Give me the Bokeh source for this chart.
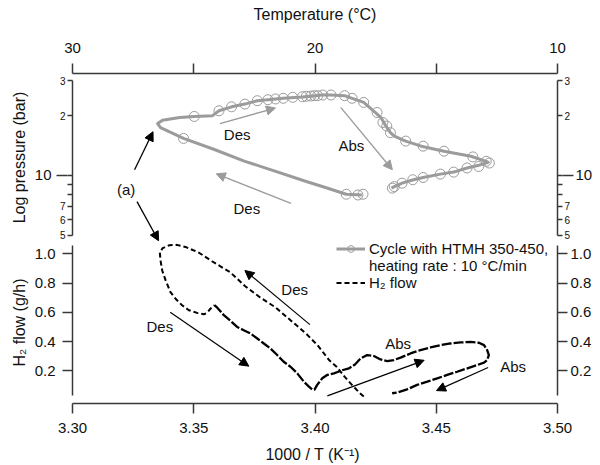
from bokeh.plotting import figure
from bokeh.models import (Range1d, LinearAxis, LogAxis, FixedTicker, Arrow, NormalHead,
                          Label, Legend, LegendItem, ColumnDataSource, PrintfTickFormatter)
from bokeh.layouts import column
from bokeh.embed import file_html
from bokeh.resources import INLINE

# ---------------- data ----------------
# top panel: pressure cycle (line path)
pres_invT = [3.4193, 3.4129, 3.4043, 3.3964, 3.3838, 3.3711, 3.3585, 3.3458, 3.3363, 3.3351,
             3.3371, 3.3442, 3.3502, 3.3576, 3.3604, 3.3656, 3.3711, 3.3762, 3.3806, 3.3869,
             3.3948, 3.4003, 3.4027, 3.4066, 3.4122, 3.4153, 3.4201, 3.4248, 3.4272, 3.4288,
             3.4311, 3.4327, 3.4374, 3.4438, 3.4532, 3.4643, 3.4706, 3.4714, 3.4675, 3.4627,
             3.4572, 3.4517, 3.4446, 3.4406, 3.4359, 3.4327, 3.4315]
pres_bar = [7.98, 8.05, 8.70, 9.33, 10.49, 11.78, 13.51, 15.36, 17.41, 18.23,
            18.96, 19.56, 19.80, 19.94, 21.14, 22.14, 22.85, 23.76, 24.04, 24.43,
            24.80, 25.18, 25.38, 25.38, 25.18, 24.43, 23.29, 20.73, 19.56, 18.08,
            16.41, 15.78, 14.89, 14.04, 13.25, 12.49, 11.78, 11.65, 11.25, 10.91,
            10.40, 10.16, 9.77, 9.52, 9.15, 8.79, 8.64]
# top panel: measured points (circles)
mark_invT = [3.3458, 3.4129, 3.4177, 3.4198, 3.3502, 3.3604, 3.3656, 3.3711, 3.3762, 3.3806,
             3.3837, 3.3869, 3.3908, 3.3948, 3.3964, 3.3983, 3.3998, 3.4011, 3.4032, 3.4066,
             3.4122, 3.4153, 3.4201, 3.4256, 3.4280, 3.4296, 3.4311, 3.4374, 3.4446, 3.4532,
             3.4651, 3.4706, 3.4719, 3.4675, 3.4627, 3.4572, 3.4517, 3.4446, 3.4403, 3.4359,
             3.4327, 3.4319]
mark_bar = [15.36, 8.05, 7.98, 8.05, 19.80, 21.14, 22.14, 22.85, 23.76, 24.04,
            24.24, 24.43, 24.71, 24.88, 25.0, 25.08, 25.18, 25.18, 25.38, 25.38,
            25.18, 24.43, 23.29, 20.73, 18.46, 17.72, 16.41, 14.89, 14.04, 13.25,
            12.40, 11.78, 11.55, 11.10, 10.91, 10.40, 10.16, 9.77, 9.52, 9.15,
            8.79, 8.64]
# bottom panel: H2 flow, first part (desorption loop)
flow1_invT = [3.4201, 3.4185, 3.4153, 3.4122, 3.4090, 3.4059, 3.4011, 3.3964, 3.3901, 3.3838,
              3.3774, 3.3711, 3.3650, 3.3575, 3.3520, 3.3470, 3.3430, 3.3400, 3.3372, 3.3360,
              3.3363, 3.3370, 3.3384, 3.3404, 3.3425, 3.3452, 3.3480, 3.3514, 3.3542, 3.3555,
              3.3569, 3.3585]
flow1_gh = [0.025, 0.048, 0.104, 0.161, 0.228, 0.273, 0.375, 0.454, 0.544, 0.634,
            0.702, 0.781, 0.875, 0.950, 1.010, 1.045, 1.062, 1.060, 1.040, 1.010,
            0.955, 0.887, 0.819, 0.739, 0.694, 0.649, 0.615, 0.597, 0.588, 0.597,
            0.626, 0.650]
# bottom panel: H2 flow, second part
flow2_invT = [3.3585, 3.3597, 3.3624, 3.3652, 3.3679, 3.3706, 3.3734, 3.3762, 3.3789, 3.3816,
              3.3844, 3.3871, 3.3899, 3.3927, 3.3954, 3.3975, 3.3990, 3.3998, 3.4009, 3.4030,
              3.4050, 3.4078, 3.4112, 3.4140, 3.4165, 3.4188, 3.4215, 3.4243, 3.4270, 3.4298,
              3.4325, 3.4353, 3.4394, 3.4435, 3.4476, 3.4518, 3.4559, 3.4600, 3.4641, 3.4676,
              3.4697, 3.4710, 3.4717, 3.4710, 3.4697, 3.4669, 3.4628, 3.4586, 3.4545, 3.4504,
              3.4463, 3.4421, 3.4380, 3.4339, 3.4318]
flow2_gh = [0.650, 0.633, 0.581, 0.542, 0.501, 0.479, 0.456, 0.422, 0.388, 0.354,
            0.309, 0.263, 0.229, 0.184, 0.127, 0.093, 0.071, 0.073, 0.105, 0.150,
            0.173, 0.184, 0.205, 0.218, 0.245, 0.286, 0.309, 0.302, 0.279, 0.268,
            0.275, 0.291, 0.320, 0.343, 0.361, 0.377, 0.388, 0.395, 0.399, 0.393,
            0.377, 0.343, 0.309, 0.275, 0.257, 0.241, 0.218, 0.195, 0.173, 0.150,
            0.127, 0.105, 0.075, 0.053, 0.048]

x_ticks = [3.30, 3.35, 3.40, 3.45, 3.50]
temp_ticks = [30, 25, 20, 15, 10]
flow_ticks = [0.2, 0.4, 0.6, 0.8, 1.0]
pres_ticks = [5, 6, 7, 8, 9, 10, 20, 30]
pres_small_labels = {5: "5", 6: "6", 7: "7", 8: "", 9: "", 10: "", 20: "2", 30: "3"}

FONT = "Liberation Sans"
AX = "#383838"
GRAY = "#9b9b9b"
TXT = "#111111"

x_range = Range1d(3.30, 3.50)


def style_axis(ax, size="15px"):
    ax.axis_line_color = AX
    ax.axis_line_width = 1.5
    ax.major_tick_line_color = AX
    ax.major_tick_line_width = 1.5
    ax.minor_tick_line_color = None
    ax.major_tick_in = 0
    ax.minor_tick_in = 0
    ax.major_tick_out = 10
    ax.minor_tick_out = 0
    ax.major_label_text_font = FONT
    ax.major_label_text_font_size = size
    ax.major_label_text_color = TXT
    ax.axis_label_text_font = FONT
    ax.axis_label_text_font_size = "16px"
    ax.axis_label_text_font_style = "normal"
    ax.axis_label_text_color = TXT


# ---------------- top panel ----------------
top = figure(width=600, height=241, x_range=x_range, y_range=Range1d(4.659, 32.55),
             y_axis_type="log", output_backend="svg", toolbar_location=None,
             x_axis_location=None, y_axis_location=None,
             min_border_left=72, min_border_right=43, min_border_top=73, min_border_bottom=0)
top.outline_line_color = None
top.grid.visible = False

top.extra_x_ranges = {"temp": Range1d(30, 10)}
tx = LinearAxis(x_range_name="temp", ticker=FixedTicker(ticks=temp_ticks),
                major_label_overrides={25: "", 15: ""}, axis_label="Temperature (°C)")
style_axis(tx)
tx.major_label_standoff = 11
tx.axis_label_standoff = 17
top.add_layout(tx, "above")

for side in ("left", "right"):
    # inner axis: all ticks short, small digit labels
    ai = LogAxis(ticker=FixedTicker(ticks=pres_ticks), bounds=(5, 30),
                 formatter=PrintfTickFormatter(format="%d"),
                 major_label_overrides=pres_small_labels)
    style_axis(ai, size="10px")
    ai.major_tick_out = 5
    ai.major_label_standoff = 2
    top.add_layout(ai, side)
for side in ("left", "right"):
    # outer axis: the large "10" label and its long tick
    ao = LogAxis(ticker=FixedTicker(ticks=[10]), bounds=(5, 30),
                 formatter=PrintfTickFormatter(format="%d"), major_label_overrides={10: "10"})
    style_axis(ao)
    ao.axis_line_alpha = 0
    ao.major_tick_out = 0
    ao.major_tick_in = 11
    ao.major_label_standoff = 5 if side == "left" else 2
    if side == "left":
        ao.axis_label = "Log pressure (bar)"
        ao.axis_label_standoff = 4
    top.add_layout(ao, side)

top.line(pres_invT, pres_bar, line_color=GRAY, line_width=3, line_join="round")
top.scatter(mark_invT, mark_bar, marker="circle", size=10, fill_color=None,
            line_color=GRAY, line_width=1)

top_arrows = [((3.3608, 18.23), (3.3837, 21.83), GRAY),
              ((3.4106, 21.99), (3.4319, 10.69), GRAY),
              ((3.3901, 7.24), (3.3593, 10.2), GRAY),
              ((3.3256, 10.69), (3.3332, 16.6), "black"),
              ((3.3266, 7.39), (3.3355, 4.70), "black")]
for (x0, y0), (x1, y1), col in top_arrows:
    top.add_layout(Arrow(x_start=x0, y_start=y0, x_end=x1, y_end=y1, line_color=col,
                         line_width=1.3,
                         end=NormalHead(size=9, fill_color=col, line_color=col, line_width=1)))

top_texts = [(3.3679, 16.09, "Des"), (3.4150, 14.15, "Abs"), (3.3719, 6.83, "Des"),
             (3.3221, 8.46, "(a)")]
for x, y, t in top_texts:
    top.add_layout(Label(x=x, y=y, text=t, text_align="center", text_baseline="middle",
                         text_font=FONT, text_font_size="15px", text_color=TXT))

# ---------------- bottom panel ----------------
bot = figure(width=600, height=224, x_range=x_range, y_range=Range1d(-0.0221, 1.0849),
             output_backend="svg", toolbar_location=None,
             x_axis_location=None, y_axis_location=None,
             min_border_left=72, min_border_right=43, min_border_top=0, min_border_bottom=61)
bot.outline_line_color = None
bot.grid.visible = False

bx = LinearAxis(ticker=FixedTicker(ticks=x_ticks), formatter=PrintfTickFormatter(format="%.2f"),
                axis_label="1000 / T  (K⁻¹)")
style_axis(bx)
bx.major_label_standoff = 9
bx.axis_label_standoff = 10
bot.add_layout(bx, "below")

for side in ("left", "right"):
    ay = LinearAxis(ticker=FixedTicker(ticks=flow_ticks), formatter=PrintfTickFormatter(format="%.1f"),
                    bounds=(0.035, 1.058))
    style_axis(ay)
    ay.major_label_standoff = 7 if side == "left" else 3
    if side == "left":
        ay.axis_label = "H₂ flow (g/h)"
        ay.axis_label_standoff = 4
    bot.add_layout(ay, side)

bot.line(flow1_invT, flow1_gh, line_color="black", line_width=2, line_dash="5 3")
bot.line(flow2_invT, flow2_gh, line_color="black", line_width=2.3, line_dash="10 2")

bot_arrows = [((3.3979, 0.517), (3.3711, 0.887)),
              ((3.3403, 0.601), (3.3727, 0.233)),
              ((3.4051, 0.030), (3.4450, 0.273)),
              ((3.4714, 0.224), (3.4501, 0.066))]
for (x0, y0), (x1, y1) in bot_arrows:
    bot.add_layout(Arrow(x_start=x0, y_start=y0, x_end=x1, y_end=y1, line_color="black",
                         line_width=1.2,
                         end=NormalHead(size=9, fill_color="black", line_color="black", line_width=1)))

bot_texts = [(3.3916, 0.759, "Des"), (3.3360, 0.503, "Des"), (3.4343, 0.386, "Abs"),
             (3.4817, 0.229, "Abs")]
for x, y, t in bot_texts:
    bot.add_layout(Label(x=x, y=y, text=t, text_align="center", text_baseline="middle",
                         text_font=FONT, text_font_size="15px", text_color=TXT))

nan = float("nan")
dummy = ColumnDataSource(data=dict(x=[nan], y=[nan]))
g1 = bot.line("x", "y", source=dummy, line_color=GRAY, line_width=3)
g1c = bot.scatter("x", "y", source=dummy, marker="circle", size=10, fill_color=None,
                  line_color=GRAY, line_width=1)
g2 = bot.line("x", "y", source=dummy, line_alpha=0)
g3 = bot.line("x", "y", source=dummy, line_color="black", line_width=2, line_dash="5 3")
legend = Legend(items=[LegendItem(label="Cycle with HTMH 350-450,", renderers=[g1, g1c]),
                       LegendItem(label="heating rate : 10 °C/min", renderers=[g2]),
                       LegendItem(label="H₂ flow", renderers=[g3])],
                location=(264, 112), padding=0, spacing=0, margin=0,
                glyph_width=29, glyph_height=17, label_height=17, label_standoff=4,
                label_text_font=FONT, label_text_font_size="15px", label_text_color=TXT,
                background_fill_alpha=0, border_line_alpha=0)
bot.add_layout(legend)

layout = column(top, bot, spacing=0)
open("out.html", "w").write(file_html(layout, INLINE))
